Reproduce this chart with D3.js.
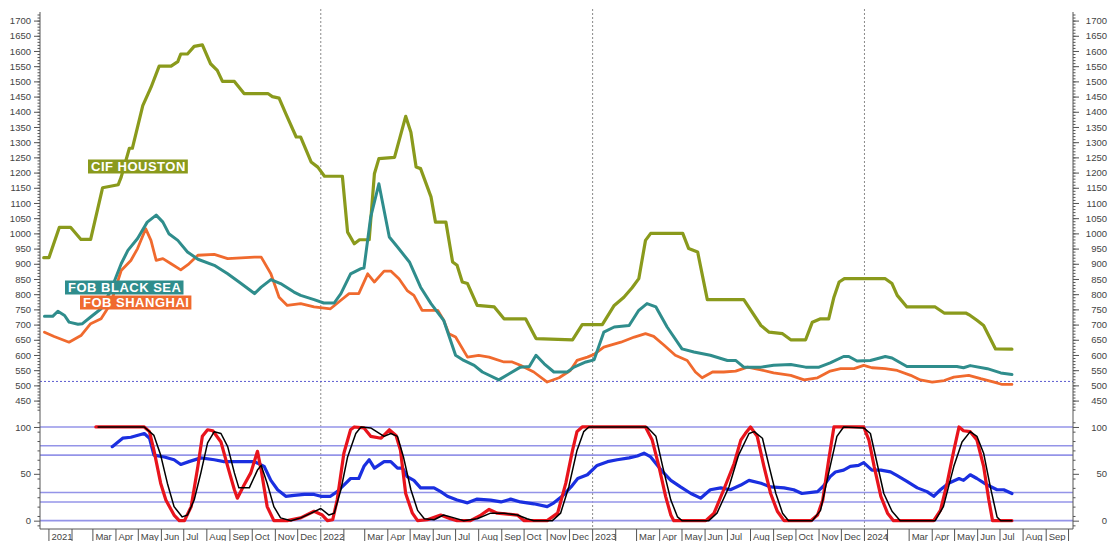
<!DOCTYPE html>
<html>
<head>
<meta charset="utf-8">
<script src="https://cdn.jsdelivr.net/npm/d3@7"></script>
<style>
  html, body { margin: 0; padding: 0; background: #fff; }
  svg { display: block; font-family: "Liberation Sans", Arial, sans-serif; }
</style>
</head>
<body>
<svg id="chart" width="1111" height="541"></svg>
<script>
// ---- axis ticks and reference levels ----
const priceTicks = d3.range(450, 1701, 50);
const oscTicks = [0, 50, 100];
const oscLevels = [0, 20, 30, 70, 80, 100];
const priceRefLevel = 513;
const yearStarts = ["2022-01-01", "2023-01-01", "2024-01-01"];

// ---- price series, USD/t : [date, value] ----
const cifHouston = [
  ["2020-12-25",920],["2021-01-01",920],["2021-01-15",1020],["2021-01-30",1020],["2021-02-13",980],
  ["2021-02-26",980],["2021-03-14",1150],["2021-04-04",1160],["2021-04-08",1185],["2021-04-19",1280],
  ["2021-04-23",1280],["2021-05-07",1420],["2021-05-18",1480],["2021-05-29",1550],["2021-06-14",1550],
  ["2021-06-23",1565],["2021-06-27",1590],["2021-07-06",1590],["2021-07-15",1615],["2021-07-26",1620],
  ["2021-08-06",1558],["2021-08-15",1536],["2021-08-22",1500],["2021-09-07",1500],["2021-09-20",1460],
  ["2021-10-22",1460],["2021-10-28",1450],["2021-11-06",1445],["2021-11-15",1394],["2021-11-29",1317],
  ["2021-12-05",1317],["2021-12-19",1235],["2021-12-28",1218],["2022-01-06",1188],["2022-01-30",1188],
  ["2022-02-06",1004],["2022-02-15",966],["2022-02-22",979],["2022-03-07",979],["2022-03-14",1196],
  ["2022-03-20",1246],["2022-04-10",1250],["2022-04-25",1385],["2022-05-02",1333],["2022-05-09",1218],
  ["2022-05-15",1213],["2022-05-29",1120],["2022-06-04",1037],["2022-06-18",1037],["2022-06-27",906],
  ["2022-07-03",895],["2022-07-10",840],["2022-07-17",835],["2022-07-30",763],["2022-08-22",758],
  ["2022-09-04",719],["2022-10-03",719],["2022-10-17",654],["2022-12-05",650],["2022-12-18",700],
  ["2023-01-14",700],["2023-01-30",763],["2023-02-12",790],["2023-02-23",821],["2023-03-04",851],
  ["2023-03-13",977],["2023-03-20",1000],["2023-05-02",1000],["2023-05-10",950],["2023-05-22",939],
  ["2023-06-04",782],["2023-07-23",782],["2023-08-15",697],["2023-08-26",675],["2023-09-13",670],
  ["2023-09-24",650],["2023-10-14",650],["2023-10-23",708],["2023-11-03",719],["2023-11-14",719],
  ["2023-11-21",790],["2023-11-28",840],["2023-12-05",851],["2024-01-29",851],["2024-02-07",835],
  ["2024-02-14",796],["2024-02-27",758],["2024-04-05",758],["2024-04-17",738],["2024-05-16",738],
  ["2024-05-22",730],["2024-05-31",714],["2024-06-09",697],["2024-06-25",620],["2024-07-17",619]
];

const fobBlackSea = [
  ["2020-12-26",727],["2021-01-06",727],["2021-01-13",744],["2021-01-22",730],["2021-01-28",708],
  ["2021-02-09",701],["2021-02-15",703],["2021-02-26",725],["2021-03-12",752],["2021-03-25",812],
  ["2021-04-08",900],["2021-04-17",944],["2021-04-30",983],["2021-05-13",1037],["2021-05-25",1060],
  ["2021-06-03",1037],["2021-06-11",999],["2021-06-23",977],["2021-07-06",939],["2021-07-20",915],
  ["2021-08-11",895],["2021-08-29",867],["2021-09-16",835],["2021-10-04",802],["2021-10-13",823],
  ["2021-10-26",848],["2021-11-08",835],["2021-11-26",807],["2021-12-05",796],["2021-12-23",782],
  ["2022-01-05",771],["2022-01-19",771],["2022-01-28",802],["2022-02-10",867],["2022-02-24",884],
  ["2022-02-28",886],["2022-03-09",1053],["2022-03-20",1163],["2022-04-03",988],["2022-04-14",955],
  ["2022-04-30",906],["2022-05-15",823],["2022-05-29",769],["2022-06-15",714],["2022-07-01",599],
  ["2022-07-12",582],["2022-07-26",566],["2022-08-06",544],["2022-08-28",518],["2022-09-11",538],
  ["2022-09-26",560],["2022-10-08",562],["2022-10-17",599],["2022-10-28",571],["2022-11-10",544],
  ["2022-11-28",544],["2022-12-07",560],["2022-12-23",577],["2023-01-03",584],["2023-01-16",675],
  ["2023-01-30",692],["2023-02-19",697],["2023-03-04",747],["2023-03-15",769],["2023-03-27",758],
  ["2023-04-11",692],["2023-05-01",620],["2023-05-17",610],["2023-06-08",599],["2023-07-01",582],
  ["2023-07-12",582],["2023-07-23",560],["2023-08-15",560],["2023-09-01",566],["2023-09-24",569],
  ["2023-10-14",560],["2023-11-01",560],["2023-11-16",574],["2023-12-04",595],["2023-12-11",595],
  ["2023-12-22",580],["2024-01-09",582],["2024-01-29",595],["2024-02-07",590],["2024-02-27",562],
  ["2024-05-04",562],["2024-05-13",558],["2024-05-22",565],["2024-06-14",555],["2024-07-02",541],
  ["2024-07-17",536]
];

const fobShanghai = [
  ["2020-12-26",675],["2021-01-08",661],["2021-01-28",642],["2021-02-13",664],["2021-02-26",703],
  ["2021-03-12",719],["2021-03-25",769],["2021-04-08",878],["2021-04-21",911],["2021-04-30",950],
  ["2021-05-11",1015],["2021-05-18",977],["2021-05-25",911],["2021-06-03",917],["2021-06-14",900],
  ["2021-06-27",880],["2021-07-08",900],["2021-07-20",928],["2021-08-11",931],["2021-08-29",917],
  ["2021-10-04",922],["2021-10-13",922],["2021-10-26",867],["2021-11-06",790],["2021-11-17",763],
  ["2021-12-05",769],["2021-12-23",758],["2022-01-14",752],["2022-01-28",780],["2022-02-08",802],
  ["2022-02-21",802],["2022-03-05",867],["2022-03-14",840],["2022-03-27",876],["2022-04-05",876],
  ["2022-04-16",851],["2022-04-27",812],["2022-05-06",796],["2022-05-17",747],["2022-06-07",747],
  ["2022-06-15",714],["2022-06-22",670],["2022-07-01",659],["2022-07-17",593],["2022-08-01",599],
  ["2022-08-15",593],["2022-09-04",577],["2022-09-15",577],["2022-09-26",566],["2022-10-14",544],
  ["2022-11-01",511],["2022-11-17",525],["2022-12-02",549],["2022-12-11",582],["2022-12-25",593],
  ["2023-01-03",602],["2023-01-16",626],["2023-02-08",642],["2023-02-26",659],["2023-03-13",670],
  ["2023-03-24",661],["2023-04-07",632],["2023-04-22",599],["2023-05-08",582],["2023-05-19",544],
  ["2023-05-28",525],["2023-06-11",544],["2023-06-26",544],["2023-07-12",547],["2023-07-28",560],
  ["2023-08-15",551],["2023-09-01",541],["2023-09-24",533],["2023-10-12",518],["2023-10-30",525],
  ["2023-11-16",547],["2023-11-30",555],["2023-12-18",555],["2023-12-31",566],["2024-01-11",558],
  ["2024-01-29",555],["2024-02-14",549],["2024-03-03",533],["2024-03-16",518],["2024-04-01",511],
  ["2024-04-17",516],["2024-04-30",527],["2024-05-20",533],["2024-06-05",522],["2024-06-23",511],
  ["2024-07-04",503],["2024-07-17",503]
];

// ---- oscillators (0-100) : [date, value] ----
const oscFast = [
  ["2021-03-05",100],["2021-05-09",100],["2021-05-16",95],["2021-05-22",75],["2021-05-31",40],
  ["2021-06-07",22],["2021-06-18",6],["2021-06-25",0],["2021-07-02",0],["2021-07-11",15],
  ["2021-07-20",58],["2021-07-26",90],["2021-08-02",97],["2021-08-09",96],["2021-08-20",84],
  ["2021-08-29",58],["2021-09-07",33],["2021-09-11",24],["2021-09-20",38],["2021-09-29",51],
  ["2021-10-08",74],["2021-10-13",54],["2021-10-21",15],["2021-10-30",0],["2021-11-17",0],
  ["2021-12-05",3],["2021-12-23",10],["2022-01-03",6],["2022-01-10",0],["2022-01-17",1],
  ["2022-01-23",22],["2022-02-01",72],["2022-02-10",97],["2022-02-15",100],["2022-02-28",99],
  ["2022-03-09",90],["2022-03-23",88],["2022-04-03",97],["2022-04-12",91],["2022-04-18",75],
  ["2022-04-25",29],["2022-05-04",8],["2022-05-11",0],["2022-05-24",1],["2022-06-11",6],
  ["2022-06-24",2],["2022-07-03",0],["2022-07-21",0],["2022-08-04",6],["2022-08-15",12],
  ["2022-08-26",8],["2022-09-22",6],["2022-10-01",0],["2022-11-01",0],["2022-11-15",8],
  ["2022-11-26",40],["2022-12-05",75],["2022-12-11",95],["2022-12-18",100],["2023-03-13",100],
  ["2023-03-22",86],["2023-03-31",58],["2023-04-09",26],["2023-04-16",6],["2023-04-20",0],
  ["2023-06-02",0],["2023-06-13",8],["2023-06-26",33],["2023-07-10",61],["2023-07-19",86],
  ["2023-07-25",93],["2023-08-01",100],["2023-08-10",90],["2023-08-19",58],["2023-08-28",29],
  ["2023-09-06",10],["2023-09-15",0],["2023-10-21",0],["2023-10-30",6],["2023-11-06",22],
  ["2023-11-14",65],["2023-11-21",100],["2023-12-31",100],["2024-01-07",86],["2024-01-14",58],
  ["2024-01-23",26],["2024-02-01",8],["2024-02-09",0],["2024-04-03",0],["2024-04-12",11],
  ["2024-04-21",40],["2024-04-30",75],["2024-05-07",100],["2024-05-13",96],["2024-05-22",95],
  ["2024-05-31",86],["2024-06-09",58],["2024-06-16",22],["2024-06-21",0],["2024-07-17",0]
];

const oscSlow = [
  ["2021-03-08",100],["2021-05-09",100],["2021-05-22",91],["2021-05-31",70],["2021-06-09",40],
  ["2021-06-18",15],["2021-06-29",4],["2021-07-06",6],["2021-07-15",22],["2021-07-24",51],
  ["2021-08-02",83],["2021-08-11",95],["2021-08-20",93],["2021-08-29",79],["2021-09-07",51],
  ["2021-09-13",35],["2021-09-27",35],["2021-10-08",54],["2021-10-13",59],["2021-10-21",40],
  ["2021-10-30",15],["2021-11-08",3],["2021-11-22",0],["2021-12-05",3],["2021-12-19",8],
  ["2022-01-01",13],["2022-01-12",6],["2022-01-19",8],["2022-01-28",33],["2022-02-06",68],
  ["2022-02-17",93],["2022-02-24",100],["2022-03-09",99],["2022-03-27",90],["2022-04-05",93],
  ["2022-04-14",90],["2022-04-22",68],["2022-05-02",33],["2022-05-11",11],["2022-05-20",2],
  ["2022-06-02",1],["2022-06-15",6],["2022-06-29",3],["2022-07-12",0],["2022-07-30",2],
  ["2022-08-17",8],["2022-09-04",8],["2022-09-22",6],["2022-10-05",2],["2022-10-14",0],
  ["2022-11-08",0],["2022-11-19",8],["2022-11-30",36],["2022-12-11",75],["2022-12-20",95],
  ["2022-12-27",100],["2023-03-15",100],["2023-03-27",90],["2023-04-05",58],["2023-04-16",22],
  ["2023-04-25",4],["2023-05-01",0],["2023-06-06",0],["2023-06-17",8],["2023-07-03",36],
  ["2023-07-16",70],["2023-07-30",93],["2023-08-06",95],["2023-08-17",88],["2023-08-26",58],
  ["2023-09-04",29],["2023-09-13",8],["2023-09-21",0],["2023-10-23",0],["2023-11-03",11],
  ["2023-11-14",51],["2023-11-25",90],["2023-12-04",100],["2023-12-31",99],["2024-01-09",93],
  ["2024-01-18",61],["2024-01-27",29],["2024-02-07",10],["2024-02-18",0],["2024-04-05",0],
  ["2024-04-16",15],["2024-04-30",58],["2024-05-11",84],["2024-05-22",95],["2024-05-31",90],
  ["2024-06-09",72],["2024-06-18",36],["2024-06-27",4],["2024-07-02",0],["2024-07-17",0]
];

const oscStrength = [
  ["2021-03-27",79],["2021-04-10",88],["2021-04-21",89],["2021-05-09",93],["2021-05-16",88],
  ["2021-05-22",70],["2021-06-05",68],["2021-06-18",65],["2021-06-27",60],["2021-07-08",63],
  ["2021-07-24",67],["2021-08-11",65],["2021-08-24",63],["2021-10-04",63],["2021-10-17",58],
  ["2021-10-26",43],["2021-11-04",33],["2021-11-15",26],["2021-11-26",27],["2021-12-10",28],
  ["2021-12-23",28],["2022-01-01",26],["2022-01-14",26],["2022-01-23",31],["2022-02-01",38],
  ["2022-02-10",45],["2022-02-21",45],["2022-02-28",58],["2022-03-07",65],["2022-03-14",56],
  ["2022-03-27",63],["2022-04-05",63],["2022-04-14",56],["2022-04-21",56],["2022-04-27",47],
  ["2022-05-06",43],["2022-05-15",35],["2022-06-02",35],["2022-06-11",31],["2022-06-20",26],
  ["2022-07-03",22],["2022-07-17",19],["2022-07-30",23],["2022-08-17",22],["2022-08-31",20],
  ["2022-09-13",23],["2022-09-26",20],["2022-10-14",18],["2022-11-01",15],["2022-11-10",19],
  ["2022-11-21",26],["2022-12-03",36],["2022-12-12",45],["2022-12-25",49],["2023-01-07",59],
  ["2023-01-21",63],["2023-02-03",65],["2023-02-19",67],["2023-03-02",69],["2023-03-11",72],
  ["2023-03-20",68],["2023-04-03",54],["2023-04-16",43],["2023-04-29",36],["2023-05-13",29],
  ["2023-05-26",24],["2023-06-08",33],["2023-06-22",35],["2023-07-05",33],["2023-07-19",38],
  ["2023-07-30",43],["2023-08-15",40],["2023-08-28",36],["2023-09-15",35],["2023-09-28",33],
  ["2023-10-09",29],["2023-10-30",31],["2023-11-07",37],["2023-11-16",47],["2023-11-23",52],
  ["2023-12-04",54],["2023-12-13",58],["2023-12-24",59],["2023-12-31",62],["2024-01-11",54],
  ["2024-01-23",54],["2024-02-05",52],["2024-02-14",48],["2024-02-27",42],["2024-03-12",35],
  ["2024-03-25",31],["2024-04-03",26],["2024-04-12",33],["2024-04-23",40],["2024-05-07",45],
  ["2024-05-13",43],["2024-05-22",49],["2024-05-31",45],["2024-06-14",38],["2024-06-27",33],
  ["2024-07-06",33],["2024-07-17",29]
];

// ---- layout ----
const left = 40, right = 1073;
const svg = d3.select("#chart");
const parse = d3.utcParse("%Y-%m-%d");

const x = d3.scaleUtc()
  .domain([parse("2020-12-20"), parse("2024-10-07")])
  .range([left, right]);
const yPrice = d3.scaleLinear().domain([420, 1720]).range([409.7, 14.5]);
const yOsc = d3.scaleLinear().domain([-9, 110]).range([529.1, 417.6]);
const axisBottomY = 529;

const colors = {
  cif: "#8a9a1c", blackSea: "#2f8d8c", shanghai: "#f06a2e",
  fast: "#e8141c", slow: "#000000", strength: "#1a2fe0",
  level: "#9494e8", ref: "#5a5ad0", grid: "#8a8a8a", axis: "#555", text: "#444"
};

// year separators
svg.append("g").selectAll("line").data(yearStarts).join("line")
  .attr("x1", d => x(parse(d))).attr("x2", d => x(parse(d)))
  .attr("y1", 9).attr("y2", axisBottomY)
  .attr("stroke", colors.grid).attr("stroke-width", 1).attr("stroke-dasharray", "2,2");

// oscillator levels
svg.append("g").selectAll("line").data(oscLevels).join("line")
  .attr("x1", left).attr("x2", right)
  .attr("y1", d => yOsc(d)).attr("y2", d => yOsc(d))
  .attr("stroke", colors.level).attr("stroke-width", 1.6);

// price reference level
svg.append("line")
  .attr("x1", left).attr("x2", right)
  .attr("y1", yPrice(priceRefLevel)).attr("y2", yPrice(priceRefLevel))
  .attr("stroke", colors.ref).attr("stroke-width", 1).attr("stroke-dasharray", "2,2");

// ---- axes ----
function styleAxis(g) {
  g.select(".domain").remove();
  g.selectAll(".tick line").attr("stroke", colors.axis);
  g.selectAll(".tick text").attr("fill", colors.text).attr("font-size", 9.5);
}
const fmt = d3.format("d");

[[d3.axisLeft, left, -1], [d3.axisRight, right, 1]].forEach(([axisFn, xPos, dir]) => {
  const addAxis = (scale, values, size, withLabels) => {
    const g = svg.append("g").attr("transform", `translate(${xPos},0)`)
      .call(axisFn(scale).tickValues(values).tickSize(size).tickPadding(3)
        .tickFormat(withLabels ? fmt : ""))
      .call(styleAxis);
    if (dir > 0) g.selectAll(".tick text").attr("text-anchor", "end").attr("x", 34);
  };
  addAxis(yPrice, d3.range(420, 1721, 10), 2.5, false);
  addAxis(yPrice, priceTicks, 6, true);
  addAxis(yOsc, d3.range(-5, 111, 10), 2.5, false);
  addAxis(yOsc, oscTicks, 6, true);
});

// vertical axis lines
[left, right].forEach(xp => {
  svg.append("line").attr("x1", xp).attr("x2", xp).attr("y1", 12).attr("y2", axisBottomY)
    .attr("stroke", colors.axis).attr("stroke-width", 1);
});

// time axis: one labelled cell per month
const months = d3.utcMonth.range(parse("2021-01-01"), parse("2024-09-02"));
const cellEdges = d3.utcMonth.range(parse("2021-01-01"), parse("2024-10-02"));
const xAxis = svg.append("g").attr("transform", `translate(0,${axisBottomY})`);
xAxis.append("line").attr("x1", left).attr("x2", right).attr("stroke", colors.axis);
xAxis.selectAll("line.sep").data(cellEdges).join("line").attr("class", "sep")
  .attr("x1", d => x(d)).attr("x2", d => x(d)).attr("y1", 0).attr("y2", 12)
  .attr("stroke", colors.axis);
xAxis.selectAll("text").data(months).join("text")
  .attr("x", d => x(d) + 2.5).attr("y", 10.5)
  .attr("fill", colors.text).attr("font-size", 9.5)
  .text(d => d.getUTCMonth() === 0 ? d.getUTCFullYear() : d.getUTCMonth() === 1 ? "" : d3.utcFormat("%b")(d));

// ---- series ----
const priceLine = d3.line().x(d => x(parse(d[0]))).y(d => yPrice(d[1]));
const oscLine = d3.line().x(d => x(parse(d[0]))).y(d => yOsc(d[1]));

function draw(gen, data, color, width) {
  svg.append("path").datum(data).attr("d", gen)
    .attr("fill", "none").attr("stroke", color).attr("stroke-width", width)
    .attr("stroke-linejoin", "round").attr("stroke-linecap", "round");
}
draw(priceLine, cifHouston, colors.cif, 3.2);
draw(priceLine, fobShanghai, colors.shanghai, 2.8);
draw(priceLine, fobBlackSea, colors.blackSea, 3);

draw(oscLine, oscStrength, colors.strength, 3.2);
draw(oscLine, oscFast, colors.fast, 3.2);
draw(oscLine, oscSlow, colors.slow, 1.5);

// ---- series labels ----
function tag(label, color, xp, yp) {
  const g = svg.append("g");
  const t = g.append("text").attr("x", xp).attr("y", yp)
    .attr("fill", "#fff").attr("font-size", 13).attr("font-weight", "bold")
    .attr("letter-spacing", 0.5).text(label);
  const b = t.node().getBBox();
  g.insert("rect", "text")
    .attr("x", b.x - 3).attr("y", b.y + 0.5)
    .attr("width", b.width + 5).attr("height", b.height - 1)
    .attr("fill", color);
}
tag("CIF HOUSTON", colors.cif, 91, 171);
tag("FOB BLACK SEA", colors.blackSea, 68, 292);
tag("FOB SHANGHAI", colors.shanghai, 83, 307);
</script>
</body>
</html>
